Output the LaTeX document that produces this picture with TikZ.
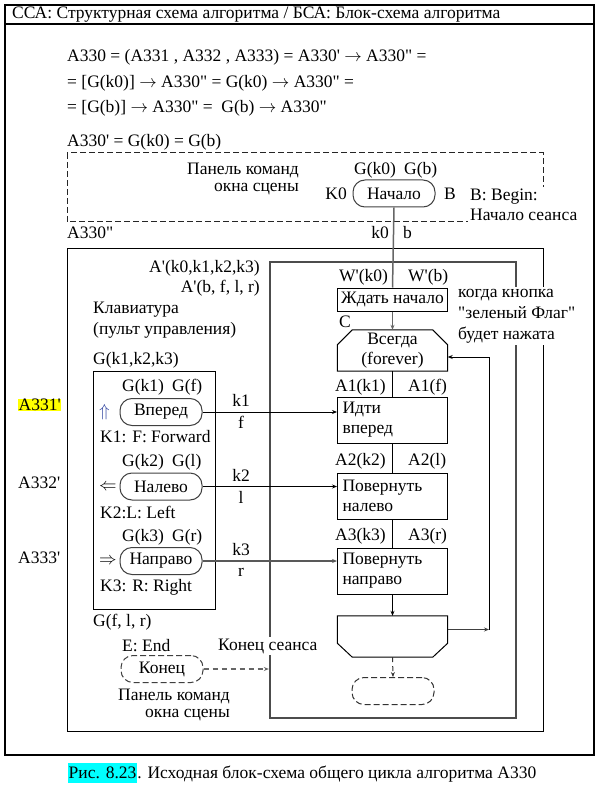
\documentclass[tikz,border=0pt]{standalone}
\usepackage{fix-cm}
\usepackage{fontspec}
\setmainfont{Liberation Serif}[Ligatures=TeXOff]
\usetikzlibrary{arrows.meta,calc}
\definecolor{arrblue}{RGB}{50,70,160}
\definecolor{hlcyan}{RGB}{0,255,255}
\definecolor{hlyellow}{RGB}{255,255,0}
\begin{document}
\begin{tikzpicture}[x=1pt,y=-1pt,
  every node/.style={font=\fontsize{17.5}{20}\selectfont, inner sep=0pt},
  lt/.style={anchor=west},
  rt/.style={anchor=east},
  frame/.style={draw=black, line width=1.2pt},
  loopbox/.style={draw=black!70, line width=2.4pt, minimum width=246pt, minimum height=456pt},
  dbox/.style={draw=black!85, line width=1pt, dash pattern=on 6pt off 3pt},
  stad/.style={draw=black!75, line width=1pt, rounded corners=12pt, minimum width=82pt, minimum height=27pt},
  dstad/.style={stad, dash pattern=on 6pt off 3pt},
  proc/.style={draw=black, line width=1pt, minimum width=110pt, minimum height=46pt, text width=100pt, align=left, inner xsep=5pt},
  box/.style={draw=black, line width=1pt, minimum width=110pt, minimum height=23pt},
  blank/.style={minimum width=110pt, minimum height=41pt, align=center},
  conn/.style={line width=1pt, -{Stealth[length=5pt,width=4pt]}},
  gconn/.style={conn, draw=black!60, line width=1.5pt},
  dconn/.style={conn, draw=black!60, line width=1.5pt, dash pattern=on 5pt off 4pt},
  plain/.style={line width=1pt},
  whitebg/.style={fill=white, inner sep=2pt, align=left},
]
\useasboundingbox (0,0) rectangle (602,799);

% outer frame and header
\draw[frame] (5,5) rectangle (594,755);
\draw[frame] (5,24) -- (594,24);
\node[lt] (hdr) at (12,15) {ССА: Структурная схема алгоритма / БСА: Блок-схема алгоритма};

% formulas
\node[lt] (f1) at (67,57) {A330 = (A331 , A332 , A333) = A330' $\rightarrow$ A330" =};
\node[lt] (f2) at (67,83) {= [G(k0)] $\rightarrow$ A330" = G(k0) $\rightarrow$ A330" =};
\node[lt] (f3) at (67,108) {= [G(b)] $\rightarrow$ A330" =\ \ G(b) $\rightarrow$ A330"};
\node[lt] (f4) at (67,142) {A330' = G(k0) = G(b)};

% dashed command panel
\draw[dbox] (67,153) rectangle (543,222);
\node[rt] (pan1) at (299,170) {Панель команд};
\node[rt] (pan2) at (299,189) {окна сцены};
\node[lt] (gk0) at (354,170) {G(k0)};
\node[lt] (gb) at (404,170) {G(b)};
\node[stad] (nach) at (394,193.5) {Начало};
\node[rt] (K0) at (347,194) {K0};
\node[lt] (Bl) at (444,194) {B};
\node[whitebg, anchor=west] (begin) at (468,204.5) {B: Begin:\\Начало сеанса};
\node[rt] (k0) at (389,233) {k0};
\node[lt] (bl) at (403,233) {b};

% A330'' box
\node[lt] (a330) at (67,233) {A330"};
\draw[frame, line width=1pt] (67,249) rectangle (543,731);
\node[loopbox] (loop) at (393,490) {};

\node[rt] (ap1) at (260,268) {A'(k0,k1,k2,k3)};
\node[rt] (ap2) at (260,288) {A'(b, f, l, r)};
\node[lt] (klav1) at (93,310) {Клавиатура};
\node[lt] (klav2) at (93,330) {(пульт управления)};
\node[lt] (gk123) at (93,360) {G(k1,k2,k3)};
\draw[frame, line width=1pt] (93,371) rectangle (215,609);

% buttons
\node[lt] (gk1) at (122,387) {G(k1)};
\node[lt] (gf) at (172,387) {G(f)};
\node[lt, text=arrblue] (upar) at (99,412) {$\Uparrow$};
\node[stad] (vp) at (161,412) {Вперед};
\node[lt] (K1) at (100,437) {K1: F: Forward};

\node[lt] (gk2) at (122,462) {G(k2)};
\node[lt] (gl) at (172,462) {G(l)};
\node[lt] (lfar) at (99,487) {$\Leftarrow$};
\node[stad] (nl) at (161,486.5) {Налево};
\node[lt] (K2) at (100,512) {K2:L: Left};

\node[lt] (gk3) at (122,537) {G(k3)};
\node[lt] (gr) at (172,537) {G(r)};
\node[lt] (rtar) at (99,561) {$\Rightarrow$};
\node[stad] (np) at (161,561) {Направо};
\node[lt] (K3) at (100,587) {K3: R: Right};

\node[lt] (gflr) at (93,622) {G(f, l, r)};

% side labels
\node[lt, fill=hlyellow, inner sep=0.5pt] (s1) at (18,405) {A331'};
\node[lt] (s2) at (18,483) {A332'};
\node[lt] (s3) at (18,558) {A333'};

% flowchart
\node[lt] (wk0) at (339,277) {W'(k0)};
\node[lt] (wb) at (408,277) {W'(b)};
\node[box] (wait) at (392.5,299.5) {Ждать начало};
\node[whitebg, anchor=west, font=\fontsize{17.5}{21}\selectfont] (flag) at (456,316) {когда кнопка\\"зеленый Флаг"\\будет нажата};
\node[lt] (C) at (339,322) {C};
\node[blank] (vs) at (392.5,350.5) {Всегда\\(forever)};
\draw[plain] ($(vs.north west)+(15,0)$) -- ($(vs.north east)+(-15,0)$) -- ($(vs.north east)+(0,15)$) -- (vs.south east) -- (vs.south west) -- ($(vs.north west)+(0,15)$) -- cycle;

\node[lt] (a1k) at (335,387) {A1(k1)};
\node[lt] (a1f) at (408,387) {A1(f)};
\node[proc] (a1) at (392.5,420) {Идти\\вперед};
\node[lt] (a2k) at (335,461) {A2(k2)};
\node[lt] (a2l) at (408,461) {A2(l)};
\node[proc] (a2) at (392.5,496) {Повернуть\\налево};
\node[lt] (a3k) at (335,536) {A3(k3)};
\node[lt] (a3r) at (408,536) {A3(r)};
\node[proc] (a3) at (392.5,571) {Повернуть\\направо};

\node[blank] (bb) at (392.5,636.5) {};
\draw[plain] (bb.north west) -- (bb.north east) -- ($(bb.south east)+(0,-14)$) -- ($(bb.south east)+(-15,0)$) -- ($(bb.south west)+(15,0)$) -- ($(bb.south west)+(0,-14)$) -- cycle;
\node[dstad, draw=black!80] (endd) at (393,691) {};

% end panel
\node[lt] (eend) at (122,646) {E: End};
\node[whitebg, anchor=west] (kses) at (216,646) {Конец сеанса};
\node[dstad] (konec) at (162,669) {Конец};
\node[rt] (pan3) at (230,696) {Панель команд};
\node[rt] (pan4) at (230,715) {окна сцены};

% connectors
\draw[gconn, -] (nach.south) -- (wait.north);
\draw[gconn] (wait.south) -- (vs.north);
\draw[plain] (vs.south) -- (a1.north);
\draw[plain] (a1.south) -- (a2.north);
\draw[plain] (a2.south) -- (a3.north);
\draw[conn] (a3.south) -- (bb.north);
\coordinate (fb) at (489,629.5);
\draw[conn, draw=black!75, line width=1.3pt] ([yshift=7pt]bb.east) -- (fb);
\draw[conn] (fb) |- ([yshift=-6.5pt]vs.east);
\draw[dconn, line width=1pt, draw=black!80] (bb.south) -- (endd.north);
\draw[dconn] (konec.east) -- (konec.east -| loop.west);

\draw[conn] (vp.east) -- (vp.east -| a1.west);
\draw[conn] (nl.east) -- (nl.east -| a2.west);
\draw[conn, draw=black!65, line width=1.4pt] (np.east) -- (np.east -| a3.west);
\node (k1) at (241,400) {k1};
\node (fl) at (241,422) {f};
\node (k2) at (241,475) {k2};
\node (ll) at (241,497) {l};
\node (k3) at (241,550) {k3};
\node (rl) at (241,572) {r};

% caption
\node[lt, fill=hlcyan, inner xsep=0.5pt, minimum height=20pt] (cap1) at (68,773) {Рис. 8.23};
\node[anchor=base west] (cap2) at (cap1.base east) {. Исходная блок-схема общего цикла алгоритма A330};
\end{tikzpicture}
\end{document}
